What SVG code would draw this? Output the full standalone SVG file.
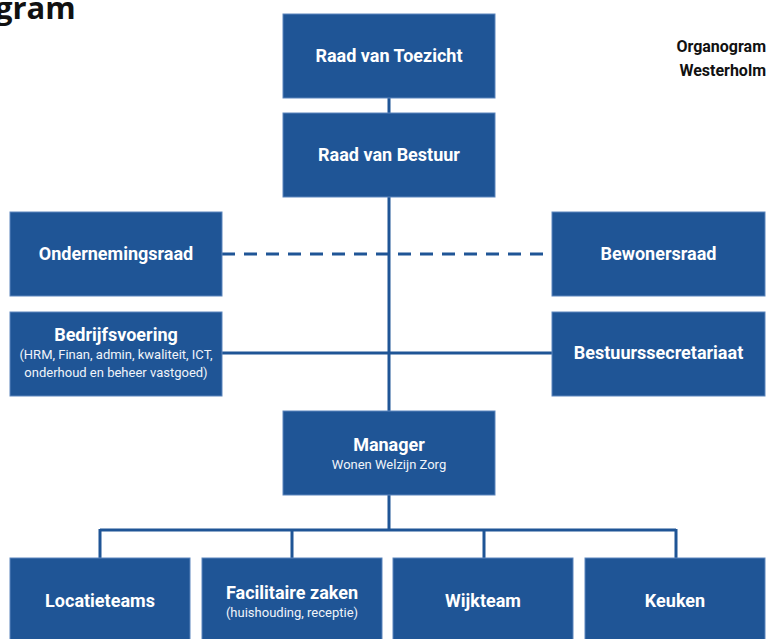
<svg xmlns="http://www.w3.org/2000/svg" width="767" height="639" viewBox="0 0 767 639">
<style>
.box{fill:#1f5596;stroke:#5d86bd;stroke-width:1}
.t{font-family:Roboto,"Liberation Sans",sans-serif;font-weight:bold;font-size:18px;fill:#fff;text-anchor:middle}
.s{font-family:Roboto,"Liberation Sans",sans-serif;font-size:13px;fill:#f0f4fa;text-anchor:middle}
.ln{stroke:#1f5596;stroke-width:3;fill:none}
.hd{font-family:Roboto,"Liberation Sans",sans-serif;font-weight:bold;font-size:16px;fill:#111;text-anchor:end}
</style>
<rect width="767" height="639" fill="#fff"/>
<text x="-5" y="19" font-family="'Open Sans',sans-serif" font-weight="bold" font-size="31" fill="#111">gram</text>
<text class="hd" x="766" y="52">Organogram</text>
<text class="hd" x="766" y="76">Westerholm</text>
<g id="connectors">
<path class="ln" d="M389 98V411M389 495V530M100 530H676M100 529V558M292 529V558M484 529V558M676 529V558M222 353H552"/>
<path class="ln" d="M222 254H552" stroke-dasharray="13 9"/>
</g>
<g id="raad-van-toezicht"><rect class="box" x="283" y="14" width="212" height="84"/><text class="t" x="389" y="62">Raad van Toezicht</text></g>
<g id="raad-van-bestuur"><rect class="box" x="283" y="113" width="212" height="84"/><text class="t" x="389" y="161">Raad van Bestuur</text></g>
<g id="ondernemingsraad"><rect class="box" x="10" y="212" width="212" height="84"/><text class="t" x="116" y="260">Ondernemingsraad</text></g>
<g id="bewonersraad"><rect class="box" x="552" y="212" width="213" height="84"/><text class="t" x="658.5" y="260">Bewonersraad</text></g>
<g id="bedrijfsvoering"><rect class="box" x="10" y="312" width="212" height="84"/><text class="t" x="116" y="341">Bedrijfsvoering</text><text class="s" x="116" y="359">(HRM, Finan, admin, kwaliteit, ICT,</text><text class="s" x="116" y="377">onderhoud en beheer vastgoed)</text></g>
<g id="bestuurssecretariaat"><rect class="box" x="552" y="312" width="213" height="84"/><text class="t" x="658.5" y="359">Bestuurssecretariaat</text></g>
<g id="manager"><rect class="box" x="283" y="411" width="212" height="84"/><text class="t" x="389" y="451">Manager</text><text class="s" x="389" y="469">Wonen Welzijn Zorg</text></g>
<g id="locatieteams"><rect class="box" x="10" y="558" width="180" height="86"/><text class="t" x="100" y="607">Locatieteams</text></g>
<g id="facilitaire-zaken"><rect class="box" x="202" y="558" width="180" height="86"/><text class="t" x="292" y="599">Facilitaire zaken</text><text class="s" x="292" y="617">(huishouding, receptie)</text></g>
<g id="wijkteam"><rect class="box" x="393" y="558" width="180" height="86"/><text class="t" x="483" y="607">Wijkteam</text></g>
<g id="keuken"><rect class="box" x="585" y="558" width="180" height="86"/><text class="t" x="675" y="607">Keuken</text></g>
</svg>
